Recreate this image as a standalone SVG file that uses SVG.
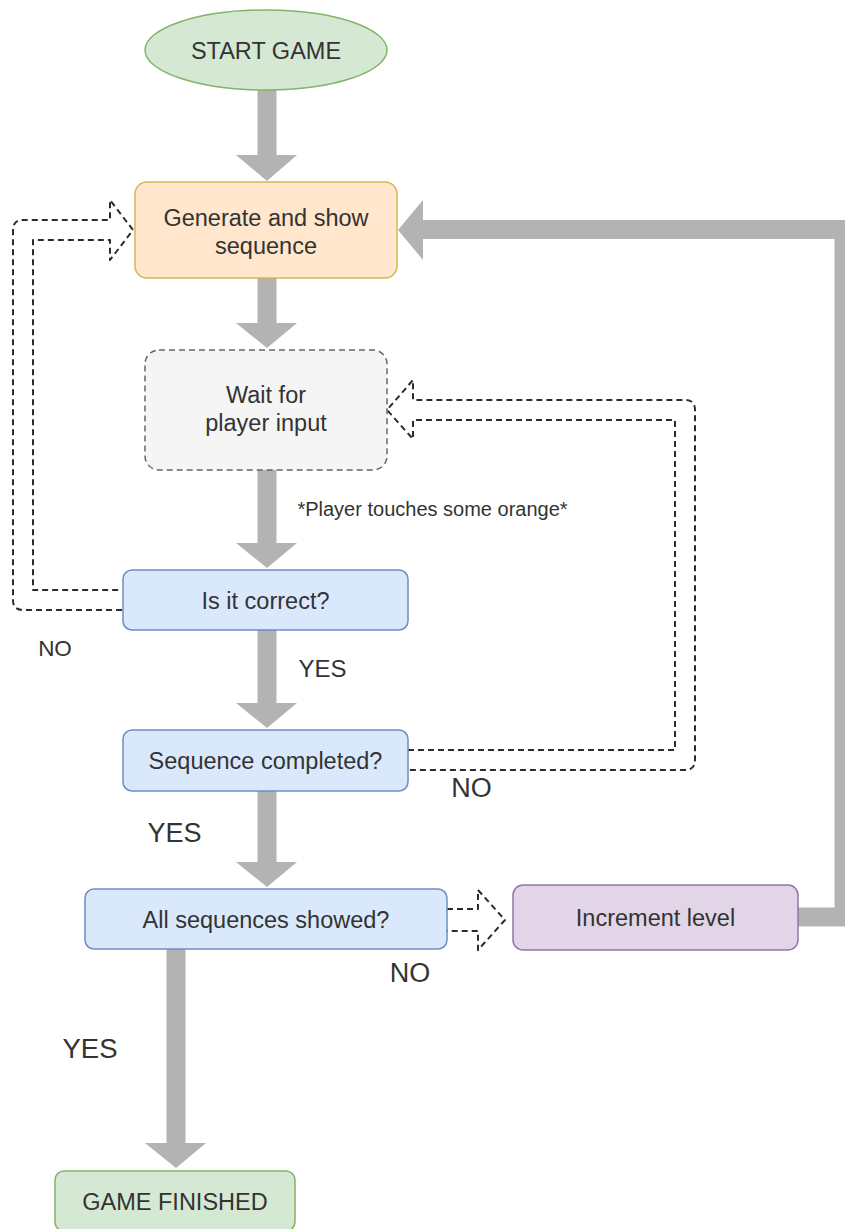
<svg xmlns="http://www.w3.org/2000/svg" width="845" height="1229" viewBox="0 0 845 1229">
  <style>
    .txt { font-family: "Liberation Sans", Arial, Helvetica, sans-serif; fill: #333333; text-anchor: middle; }
    .node { font-size: 23.5px; }
    .flow { fill: #b3b3b3; }
    .flowline { fill: none; stroke: #b3b3b3; stroke-width: 19; stroke-linejoin: miter; }
    .dash { fill: none; stroke: #2b2b2b; stroke-width: 2; stroke-dasharray: 6 4; stroke-linejoin: round; }
  </style>

  <!-- connectors -->
  <g id="connectors">
    <!-- START GAME -> Generate -->
    <rect class="flow" x="257.5" y="89" width="19" height="67"/>
    <polygon class="flow" points="236,155 297,155 267,181"/>
    <!-- Generate -> Wait -->
    <rect class="flow" x="257.5" y="277" width="19" height="47"/>
    <polygon class="flow" points="236,323 297,323 267,348"/>
    <!-- Wait -> Is it correct -->
    <rect class="flow" x="257.5" y="469" width="19" height="75"/>
    <polygon class="flow" points="236,543 297,543 267,568"/>
    <!-- Is it correct -> Sequence completed (YES) -->
    <rect class="flow" x="257.5" y="629" width="19" height="75"/>
    <polygon class="flow" points="236,703 297,703 267,728"/>
    <!-- Sequence completed -> All sequences (YES) -->
    <rect class="flow" x="257.5" y="790" width="19" height="73"/>
    <polygon class="flow" points="236,862 297,862 267,887"/>
    <!-- All sequences -> GAME FINISHED (YES) -->
    <rect class="flow" x="166.5" y="948" width="19" height="196"/>
    <polygon class="flow" points="145,1143 206,1143 176,1168"/>
    <!-- Increment level -> Generate -->
    <path class="flowline" d="M797,917 H844 V229.5 H422"/>
    <polygon class="flow" points="423,200 423,260 398,230"/>

    <!-- Is it correct -> Generate (NO) -->
    <path class="dash" d="M122,610 H23 Q13,610 13,600 V230 Q13,220 23,220 H110 V200 L133,230 L110,260 V240 H33 V590 H122"/>
    <!-- Sequence completed -> Wait (NO) -->
    <path class="dash" d="M408,750 H675 V420 H413 V439 L387,410 L413,380 V400 H685 Q695,400 695,410 V760 Q695,770 685,770 H408"/>
    <!-- All sequences -> Increment level (NO) -->
    <path class="dash" d="M447,909 H478 V890 L505,920 L478,950 V931 H447"/>
  </g>

  <!-- nodes -->
  <g id="start">
    <ellipse cx="266" cy="50" rx="121" ry="40" fill="#d5e8d4" stroke="#82b366" stroke-width="1.5"/>
    <text class="txt node" x="266" y="58.5">START GAME</text>
  </g>
  <g id="generate">
    <rect x="135" y="182" width="262" height="96" rx="12" fill="#ffe6cc" stroke="#d6b656" stroke-width="1.5"/>
    <text class="txt node" x="266" y="226">Generate and show</text>
    <text class="txt node" x="266" y="254">sequence</text>
  </g>
  <g id="wait">
    <rect x="145" y="350" width="242" height="120" rx="14" fill="#f5f5f5" stroke="#666666" stroke-width="1.5" stroke-dasharray="6 4"/>
    <text class="txt node" x="266" y="403">Wait for</text>
    <text class="txt node" x="266" y="431">player input</text>
  </g>
  <g id="correct">
    <rect x="123" y="570" width="285" height="60" rx="9" fill="#dae8fc" stroke="#6c8ebf" stroke-width="1.5"/>
    <text class="txt node" x="265.5" y="608.5">Is it correct?</text>
  </g>
  <g id="completed">
    <rect x="123" y="730" width="285" height="61" rx="9" fill="#dae8fc" stroke="#6c8ebf" stroke-width="1.5"/>
    <text class="txt node" x="265.5" y="768.5">Sequence completed?</text>
  </g>
  <g id="allshowed">
    <rect x="85" y="889" width="362" height="60" rx="9" fill="#dae8fc" stroke="#6c8ebf" stroke-width="1.5"/>
    <text class="txt node" x="266" y="927.5">All sequences showed?</text>
  </g>
  <g id="increment">
    <rect x="513" y="885" width="285" height="65" rx="10" fill="#e1d5e7" stroke="#9673a6" stroke-width="1.5"/>
    <text class="txt node" x="655.5" y="926">Increment level</text>
  </g>
  <g id="finished">
    <rect x="55" y="1171" width="240" height="60" rx="9" fill="#d5e8d4" stroke="#82b366" stroke-width="1.5"/>
    <text class="txt node" x="175" y="1209.5">GAME FINISHED</text>
  </g>

  <!-- edge labels -->
  <g id="labels">
    <text class="txt" x="432.5" y="516" font-size="20">*Player touches some orange*</text>
    <text class="txt" x="55" y="656" font-size="22.5">NO</text>
    <text class="txt" x="322.5" y="677" font-size="24">YES</text>
    <text class="txt" x="471.5" y="797" font-size="27">NO</text>
    <text class="txt" x="174.5" y="842" font-size="27">YES</text>
    <text class="txt" x="410" y="982" font-size="27">NO</text>
    <text class="txt" x="90" y="1058" font-size="27.5">YES</text>
  </g>
</svg>
